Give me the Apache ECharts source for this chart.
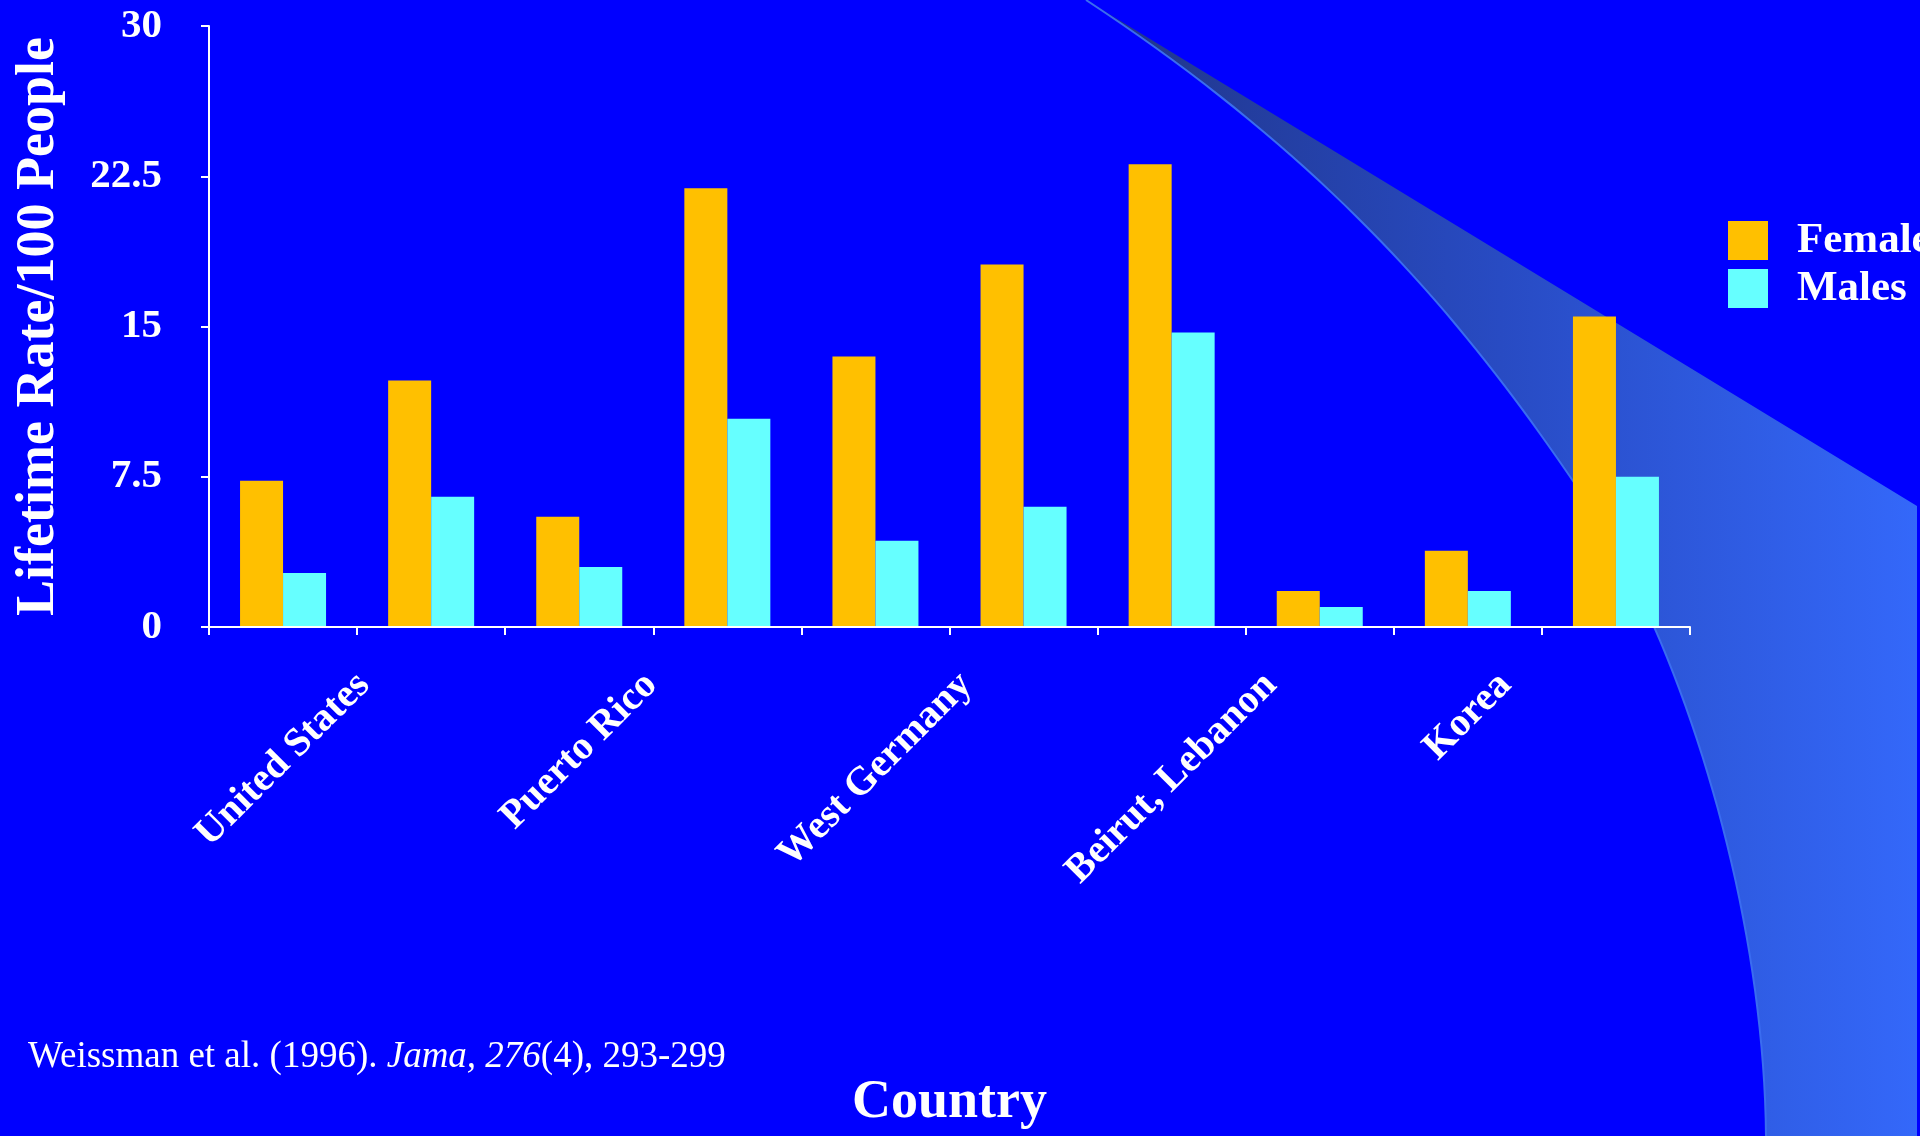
<!DOCTYPE html>
<html>
<head>
<meta charset="utf-8">
<script src="https://cdn.jsdelivr.net/npm/echarts@6/dist/echarts.min.js"></script>
<style>
  html, body { margin: 0; padding: 0; background: #0000FF; }
  #chart { width: 1920px; height: 1136px; }
</style>
</head>
<body>
<div id="chart"></div>
<script>
// ---- data ----
const countries = ['United States', 'Canada', 'Puerto Rico', 'France', 'West Germany',
                   'Italy', 'Beirut, Lebanon', 'Taiwan', 'Korea', 'New Zealand'];
const females = [7.3, 12.3, 5.5, 21.9, 13.5, 18.1, 23.1, 1.8, 3.8, 15.5];
const males   = [2.7, 6.5, 3.0, 10.4, 4.3, 6.0, 14.7, 1.0, 1.8, 7.5];
const seriesNames = ['Females', 'Males'];
const yTicks = { min: 0, max: 30, interval: 7.5 };
const yTitle = 'Lifetime Rate/100 People';
const xTitle = 'Country';

// ---- layout / style ----
const FONT = '"Liberation Serif", "Times New Roman", serif';
const GRID = { left: 209, right: 230, top: 26, bottom: 509 };
const AXIS_Y = 1136 - GRID.bottom;
const LABEL_FONT = 40, LABEL_LH = 40, LABEL_MARGIN = 33, LABEL_TOP = 665;

// Centre each rotated label under its category, top end on a common line
const mctx = document.createElement('canvas').getContext('2d');
mctx.font = 'bold ' + LABEL_FONT + 'px ' + FONT;
const S = Math.SQRT1_2;
const xData = countries.map(function (name) {
  const L = mctx.measureText(name).width;
  const centerY = LABEL_TOP + (L * S + LABEL_LH * S) / 2;
  const D = centerY - (AXIS_Y + LABEL_MARGIN);
  const T = Math.max(0, D / Math.SQRT2 - LABEL_LH / 2);
  const R = Math.max(0, Math.SQRT2 * D);
  return {
    value: name,
    textStyle: {
      align: 'center', verticalAlign: 'top',
      padding: [T, R, 0, 0],
      lineHeight: LABEL_LH
    }
  };
});

// ---- decorative background swoosh (sampled bezier outline) ----
function cubic(p0, p1, p2, p3, n) {
  const pts = [];
  for (let i = 0; i <= n; i++) {
    const t = i / n, u = 1 - t;
    pts.push([
      u * u * u * p0[0] + 3 * u * u * t * p1[0] + 3 * u * t * t * p2[0] + t * t * t * p3[0],
      u * u * u * p0[1] + 3 * u * u * t * p1[1] + 3 * u * t * t * p2[1] + t * t * t * p3[1]
    ]);
  }
  return pts;
}
const curvePts = cubic([1766, 1136], [1764, 900], [1677, 624], [1573, 481], 40)
  .concat(cubic([1573, 481], [1464, 321], [1330, 160], [1086, 0], 40).slice(1));
const swooshPts = [[1086, 0], [1917, 506], [1917, 1136]].concat(curvePts);

const chart = echarts.init(document.getElementById('chart'), null, { renderer: 'canvas' });
chart.setOption({
  backgroundColor: '#0000FF',
  animation: false,
  title: {
    left: 28, top: 1039, padding: 0,
    text: '{n|Weissman et al. (1996). }{i|Jama, 276}{n|(4), 293-299}',
    textStyle: {
      fontWeight: 'normal',
      rich: {
        n: { fontFamily: FONT, fontSize: 37, fontWeight: 'normal', color: '#FFFFFF', lineHeight: 37 },
        i: { fontFamily: FONT, fontSize: 37, fontWeight: 'normal', color: '#FFFFFF', lineHeight: 37, fontStyle: 'italic' }
      }
    }
  },
  graphic: [
    {
      type: 'polygon', z: -1, silent: true,
      shape: { points: swooshPts },
      style: {
        fill: {
          type: 'linear', x: 0, y: 0, x2: 1, y2: 0,
          colorStops: [
            { offset: 0, color: 'rgb(32,52,135)' },
            { offset: 0.5, color: 'rgb(40,75,195)' },
            { offset: 1, color: 'rgb(52,104,250)' }
          ]
        }
      }
    },
    {
      type: 'polyline', z: -1, silent: true,
      shape: { points: curvePts },
      style: { fill: null, stroke: '#3a6cf0', lineWidth: 2 }
    }
  ],
  legend: {
    data: seriesNames,
    orient: 'vertical',
    left: 1728, top: 219,
    padding: 0,
    itemWidth: 40, itemHeight: 39, itemGap: 5,
    icon: 'rect',
    selectedMode: false,
    textStyle: {
      color: '#FFFFFF', fontFamily: FONT, fontWeight: 'bold', fontSize: 43,
      padding: [0, 0, 0, 24]
    }
  },
  grid: GRID,
  xAxis: {
    type: 'category',
    data: xData,
    z: 5,
    name: xTitle,
    nameLocation: 'middle',
    nameGap: 449,
    nameTextStyle: { color: '#FFFFFF', fontFamily: FONT, fontWeight: 'bold', fontSize: 54 },
    axisLine: { show: true, lineStyle: { color: '#FFFFFF', width: 2 } },
    axisTick: { show: true, interval: 0, length: 8, lineStyle: { color: '#FFFFFF', width: 2 } },
    axisLabel: {
      interval: 1, rotate: 45, margin: LABEL_MARGIN,
      color: '#FFFFFF', fontFamily: FONT, fontWeight: 'bold', fontSize: LABEL_FONT
    },
    splitLine: { show: false }
  },
  yAxis: {
    type: 'value',
    min: yTicks.min, max: yTicks.max, interval: yTicks.interval,
    z: 5,
    name: yTitle,
    nameLocation: 'middle',
    nameGap: 143,
    nameTextStyle: { color: '#FFFFFF', fontFamily: FONT, fontWeight: 'bold', fontSize: 54 },
    axisLine: { show: true, lineStyle: { color: '#FFFFFF', width: 2 } },
    axisTick: { show: true, length: 8, lineStyle: { color: '#FFFFFF', width: 2 } },
    axisLabel: { margin: 47, color: '#FFFFFF', fontFamily: FONT, fontWeight: 'bold', fontSize: 41 },
    splitLine: { show: false }
  },
  series: [
    { name: seriesNames[0], type: 'bar', data: females, barWidth: 43, barGap: '0%',
      itemStyle: { color: '#FFC000' } },
    { name: seriesNames[1], type: 'bar', data: males, barWidth: 43, barGap: '0%',
      itemStyle: { color: '#66FFFF' } }
  ]
});
</script>
</body>
</html>
